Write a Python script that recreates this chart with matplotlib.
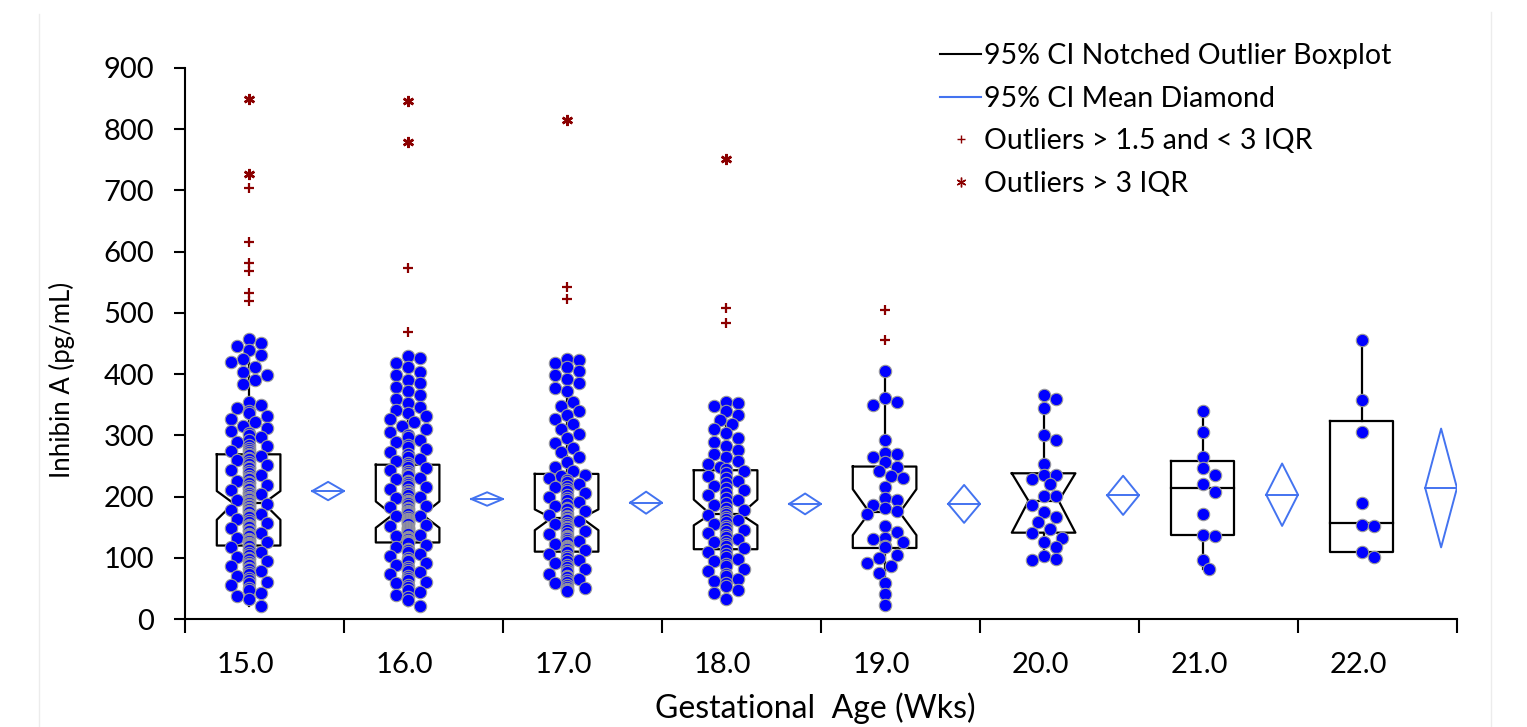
import matplotlib
matplotlib.use("Agg")
from matplotlib import pyplot as plt
from matplotlib import font_manager
from matplotlib.lines import Line2D
import numpy as np

plt.rcParams['font.family'] = ['Lato', 'DejaVu Sans']

# categories (gestational age, weeks)
ages = ['15.0', '16.0', '17.0', '18.0', '19.0', '20.0', '21.0', '22.0']

# individual Inhibin A values (pg/mL)
g15 = [457, 451, 446, 439, 431, 424, 419, 411, 404, 399, 391, 384,
       354, 349, 344, 339, 336, 332, 327, 321, 316, 312, 307, 304, 300, 297, 293, 289, 285, 282, 279, 276, 274, 272, 270,
       268, 266, 263, 261, 259, 256, 253, 251, 249, 246, 243, 241, 238, 236, 233, 231, 229, 226, 224, 222, 219, 217, 214,
       212, 210, 208, 206, 204, 202, 200, 198, 196, 194, 193, 191, 190,
       188, 186, 184, 182, 180, 178, 176, 174, 172, 170, 168, 166, 163, 161, 158, 156, 154, 152, 150, 148, 146, 144, 141,
       139, 137, 135, 133, 131, 129, 127, 126, 124, 122, 121,
       119, 117, 115, 112, 110, 107, 105, 102, 100, 98, 95, 93, 90, 88, 86, 83, 81, 78, 76, 73, 70, 67, 64, 61, 58, 55,
       51, 47, 43, 38, 33, 21]
g16 = [430, 426, 418, 412, 404, 399, 391, 385, 379, 372, 366, 360, 353, 347, 342, 336, 331, 326, 321, 316, 311, 306,
       301, 297, 293, 289, 285, 281, 277, 273, 269, 265, 261, 258, 255,
       251, 249, 246, 243, 241, 238, 236, 233, 230, 228, 225, 223, 220, 218, 215, 213, 210, 208, 205, 203, 200, 198, 196,
       193, 191, 189, 187, 185, 183, 181, 179, 177, 175, 173, 171,
       169, 168, 166, 164, 163, 161, 160, 158, 157, 155, 153, 152, 150, 149, 147, 146, 144, 142, 141, 139, 138, 136, 134,
       133, 131, 130, 128, 127, 126,
       124, 121, 118, 115, 112, 109, 106, 103, 100, 97, 94, 91, 88, 85, 82, 79, 76, 73, 70, 67, 64, 61, 58, 55, 52, 48,
       44, 40, 36, 31, 21]
g17 = [425, 423, 418, 412, 405, 398, 392, 385, 378, 372, 355, 348, 340, 333, 326, 318, 310, 302, 295, 287, 280, 272,
       264, 256, 248, 241,
       236, 233, 230, 227, 224, 221, 218, 215, 212, 209, 206, 203, 200, 197, 194, 191, 188, 185, 182, 179, 176, 173, 170,
       168, 166,
       164, 162, 160, 157, 155, 153, 150, 148, 146, 143, 141, 139, 136, 134, 132, 129, 127, 125, 122, 120, 118, 116, 114,
       112, 111,
       109, 106, 103, 100, 97, 94, 91, 88, 85, 82, 80, 77, 74, 71, 68, 66, 63, 60, 58, 55, 53, 51, 49, 47, 46]
g18 = [355, 352, 348, 340, 333, 325, 318, 310, 303, 296, 289, 282, 276, 270, 264, 258, 253, 248, 245,
       242, 238, 234, 230, 226, 222, 218, 214, 210, 206, 202, 198, 194, 190, 186, 182, 178, 175, 172,
       170, 167, 164, 161, 158, 155, 152, 149, 146, 143, 140, 137, 134, 131, 128, 125, 122, 119, 116,
       113, 110, 106, 102, 98, 94, 90, 86, 82, 78, 74, 70, 66, 62, 58, 54, 48, 42, 32]
g19 = [405, 361, 354, 350, 293, 271, 269, 265, 257, 249, 241, 234, 231, 215, 197, 194, 187, 182, 176, 171,
       152, 142, 133, 131, 125, 120, 117, 104, 100, 91, 87, 75, 59, 41, 23]
g20 = [366, 359, 345, 300, 292, 253, 235, 235, 228, 220, 201, 201, 187, 174, 166, 158, 147, 141, 133, 125,
       117, 103, 98, 96]
g21 = [340, 305, 265, 247, 235, 220, 208, 171, 137, 136, 97, 82]
g22 = [455, 358, 305, 190, 154, 152, 109, 101]
groups = [g15, g16, g17, g18, g19, g20, g21, g22]

# outliers
mild_out = [[704, 616, 582, 568, 532, 519], [574, 468], [543, 523], [508, 484], [504, 455], [], [], []]
extreme_out = [[849, 727], [846, 779], [815], [752], [], [], [], []]

# box statistics
q1 = [120, 125, 110, 114, 116, 141, 137, 110]
med = [189, 170, 165, 171, 174, 193, 214, 156]
q3 = [269, 252, 237, 243, 249, 238, 258, 323]
notch_lo = [162, 149, 145, 153, 137, 141, None, None]
notch_hi = [209, 192, 179, 195, 212, 238, None, None]
whisk_lo = [21, 21, 46, 32, 23, 96, 82, 110]
whisk_hi = [457, 430, 425, 355, 405, 366, 340, 455]

# mean and 95% CI
means = [209, 196, 190, 188, 188, 202, 203, 214]
ci_lo = [194, 185, 172, 171, 157, 170, 152, 117]
ci_hi = [224, 207, 208, 205, 219, 234, 254, 311]

blue = '#4373f0'
darkred = '#8b0000'

W, H = 1527, 727
fig = plt.figure(figsize=(W / 100, H / 100), dpi=100)
x0, x1, y0, y1 = 185, 1457, 619, 68
ax = fig.add_axes([x0 / W, 1 - y0 / H, (x1 - x0) / W, (y0 - y1) / H])
ax.set_xlim(0, 8)
ax.set_ylim(0, 900)

px_x = (x1 - x0) / 8.0   # pixels per category
px_y = (y0 - y1) / 900.0  # pixels per pg/mL

box_off = 0.4
box_hw = 0.2
dia_off = 0.9
dia_hw = 0.1
indent = 0.021


def swarm(vals):
    # dot jitter: keep dots apart while room allows, otherwise pile them on the centre line
    placed = []
    offs = []
    step = 6.0
    mind = 10.5
    for v in vals:
        y = v * px_y
        pos = 0.0
        for k in [0, 1, -1, 2, -2, 3, -3]:
            x = k * step
            if all((x - a) ** 2 + (y - b) ** 2 >= mind ** 2 for a, b in placed):
                pos = x
                break
        placed.append((pos, y))
        offs.append(pos / px_x)
    return np.array(offs)


lc = 'black'
for i in range(8):
    c = i + box_off
    l, r = c - box_hw, c + box_hw
    if notch_lo[i] is not None:
        xs = [l, r, r, r - indent * 5, r, r, l, l, l + indent * 5, l, l]
        ys = [q3[i], q3[i], notch_hi[i], med[i], notch_lo[i], q1[i], q1[i], notch_lo[i], med[i], notch_hi[i], q3[i]]
        ax.plot(xs, ys, color=lc, lw=1.6, zorder=2)
        ax.plot([l + indent * 5, r - indent * 5], [med[i], med[i]], color=lc, lw=1.6, zorder=2)
    else:
        ax.plot([l, r, r, l, l], [q3[i], q3[i], q1[i], q1[i], q3[i]], color=lc, lw=1.6, zorder=2)
        ax.plot([l, r], [med[i], med[i]], color=lc, lw=1.6, zorder=2)
    ax.plot([c, c], [q3[i], whisk_hi[i]], color=lc, lw=1.6, zorder=2)
    ax.plot([c, c], [q1[i], whisk_lo[i]], color=lc, lw=1.6, zorder=2)

    # mean diamond
    d = i + dia_off
    ax.plot([d - dia_hw, d, d + dia_hw, d, d - dia_hw], [means[i], ci_hi[i], means[i], ci_lo[i], means[i]],
            color=blue, lw=1.4, zorder=2)
    ax.plot([d - dia_hw, d + dia_hw], [means[i], means[i]], color=blue, lw=1.4, zorder=2)

    vals = np.array(groups[i], dtype=float)
    offs = swarm(vals)
    ax.scatter(c + offs, vals, s=80, color='#0000ff', edgecolors='#9a9a9a', linewidths=0.8, zorder=3)

    if mild_out[i]:
        ax.plot([c] * len(mild_out[i]), mild_out[i], ls='none', marker='+', color=darkred, ms=7, mew=1.6, zorder=4)
    if extreme_out[i]:
        ax.plot([c] * len(extreme_out[i]), extreme_out[i], ls='none', marker=(6, 2, 0), color=darkred,
                ms=8, mew=1.8, zorder=4)

# axes styling
for s in ['top', 'right']:
    ax.spines[s].set_visible(False)
for s in ['left', 'bottom']:
    ax.spines[s].set_linewidth(1.5)
ax.set_yticks(range(0, 901, 100))
ax.tick_params(axis='y', direction='out', length=8, width=1.5, labelsize=21, pad=14)
ax.set_xticks(range(0, 9))
ax.set_xticklabels([])
ax.tick_params(axis='x', which='major', direction='out', length=10, width=1.5)
ax.set_xticks([i + box_off - 0.02 for i in range(8)], minor=True)
ax.set_xticklabels(ages, minor=True)
ax.tick_params(axis='x', which='minor', length=0, labelsize=21, pad=24)

names = [f.name for f in font_manager.fontManager.ttflist]
yfam = ['Liberation Sans Narrow', 'Lato'] if 'Liberation Sans Narrow' in names else ['Lato']
fig.text(62 / W, 1 - 380 / H, 'Inhibin A (pg/mL)', rotation=90, ha='center', va='center', fontsize=18.5,
         family=yfam)
fig.text(815 / W, 1 - 708 / H, 'Gestational  Age (Wks)', ha='center', va='center', fontsize=23)

# faint page borders
fig.add_artist(Line2D([39 / W, 39 / W], [0, 1 - 14 / H], color='#ececec', lw=1))
fig.add_artist(Line2D([1491 / W, 1491 / W], [0, 1 - 12 / H], color='#ececec', lw=1))

handles = [Line2D([], [], color='black', lw=1.5),
           Line2D([], [], color=blue, lw=1.5),
           Line2D([], [], ls='none', marker='+', color=darkred, ms=6, mew=1),
           Line2D([], [], ls='none', marker=(6, 2, 0), color=darkred, ms=7, mew=1)]
labels = ['95% CI Notched Outlier Boxplot', '95% CI Mean Diamond', 'Outliers > 1.5 and < 3 IQR', 'Outliers > 3 IQR']
fig.legend(handles, labels, loc='upper left', bbox_to_anchor=(940 / W, 1 - 43 / H), frameon=False, fontsize=20.5,
           handlelength=1.45, handletextpad=0.08, labelspacing=0.58, borderaxespad=0, borderpad=0)

fig.savefig('out.png', dpi=100)
